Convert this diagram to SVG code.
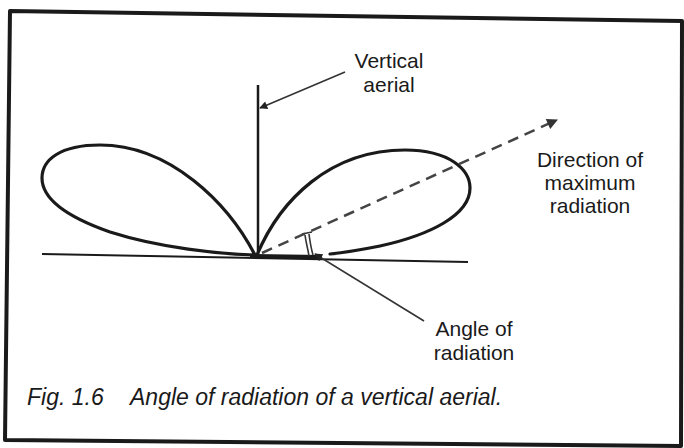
<svg xmlns="http://www.w3.org/2000/svg" width="684" height="448" viewBox="0 0 684 448">
<defs>
<style>
.lbl{font-family:"Liberation Sans",Arial,sans-serif;font-size:21px;fill:#1a1a1a;text-anchor:middle}
.cap{font-family:"Liberation Sans",Arial,sans-serif;font-size:23px;font-style:italic;fill:#1a1a1a}
.lobe{fill:none;stroke:#1a1a1a;stroke-width:3.2;stroke-linecap:round;stroke-linejoin:round}
.thin{fill:none;stroke:#333;stroke-width:1.6}
</style>
<marker id="ah" viewBox="0 0 10 10" refX="9" refY="5" markerWidth="14" markerHeight="8" markerUnits="userSpaceOnUse" orient="auto">
<path d="M0,0 L10,5 L0,10 Z" fill="#222"/>
</marker>
<marker id="ahBig" viewBox="0 0 10 10" refX="9" refY="5" markerWidth="17" markerHeight="11" markerUnits="userSpaceOnUse" orient="auto">
<path d="M0,0 L10,5 L0,10 Z" fill="#333"/>
</marker>
</defs>
<rect width="684" height="448" fill="#fff"/>
<path d="M10,11 L682,21 L681,446 L5,440 Z" fill="none" stroke="#1a1a1a" stroke-width="4" stroke-linejoin="round"/>
<g id="ground">
<path d="M42,254 L468,262" fill="none" stroke="#1a1a1a" stroke-width="2"/>
<path d="M250,256 L322,257" fill="none" stroke="#1a1a1a" stroke-width="4"/>
</g>
<g id="aerial">
<path d="M258,85 L258,256" fill="none" stroke="#1a1a1a" stroke-width="2.5"/>
</g>
<g id="left-lobe">
<path class="lobe" d="M255,255 C228,203 170,145 100,145 C60,145 42,160 42,178 C42,200 70,218 110,232 C160,248 220,254 255,255"/>
</g>
<g id="right-lobe">
<path class="lobe" d="M257,255 C280,200 330,150 405,150 C450,150 470,170 470,188 C470,215 430,235 380,246 C355,251 340,253 330,254"/>
</g>
<g id="angle-marker">
<path d="M302,234 L312,232 M305,235 C306,243 308,249 309,256 M309,234 C310,242 311,248 313,255" fill="none" stroke="#333" stroke-width="1.6"/>
</g>
<g id="connectors">
<path d="M262,253 L557,120" fill="none" stroke="#444" stroke-width="2.5" stroke-dasharray="11 7" marker-end="url(#ahBig)"/>
<path class="thin" d="M345,72 L260,108" marker-end="url(#ah)"/>
<path class="thin" d="M424,321 L315,254" marker-end="url(#ah)"/>
</g>
<g id="label-aerial">
<text class="lbl" x="389" y="68">Vertical</text>
<text class="lbl" x="389" y="92">aerial</text>
</g>
<g id="label-direction">
<text class="lbl" x="590" y="167">Direction of</text>
<text class="lbl" x="590" y="190">maximum</text>
<text class="lbl" x="590" y="213">radiation</text>
</g>
<g id="label-angle">
<text class="lbl" x="474" y="336">Angle of</text>
<text class="lbl" x="474" y="360">radiation</text>
</g>
<g id="caption">
<text class="cap" y="405"><tspan x="27">Fig. 1.6</tspan><tspan x="130">Angle of radiation of a vertical aerial.</tspan></text>
</g>
</svg>
